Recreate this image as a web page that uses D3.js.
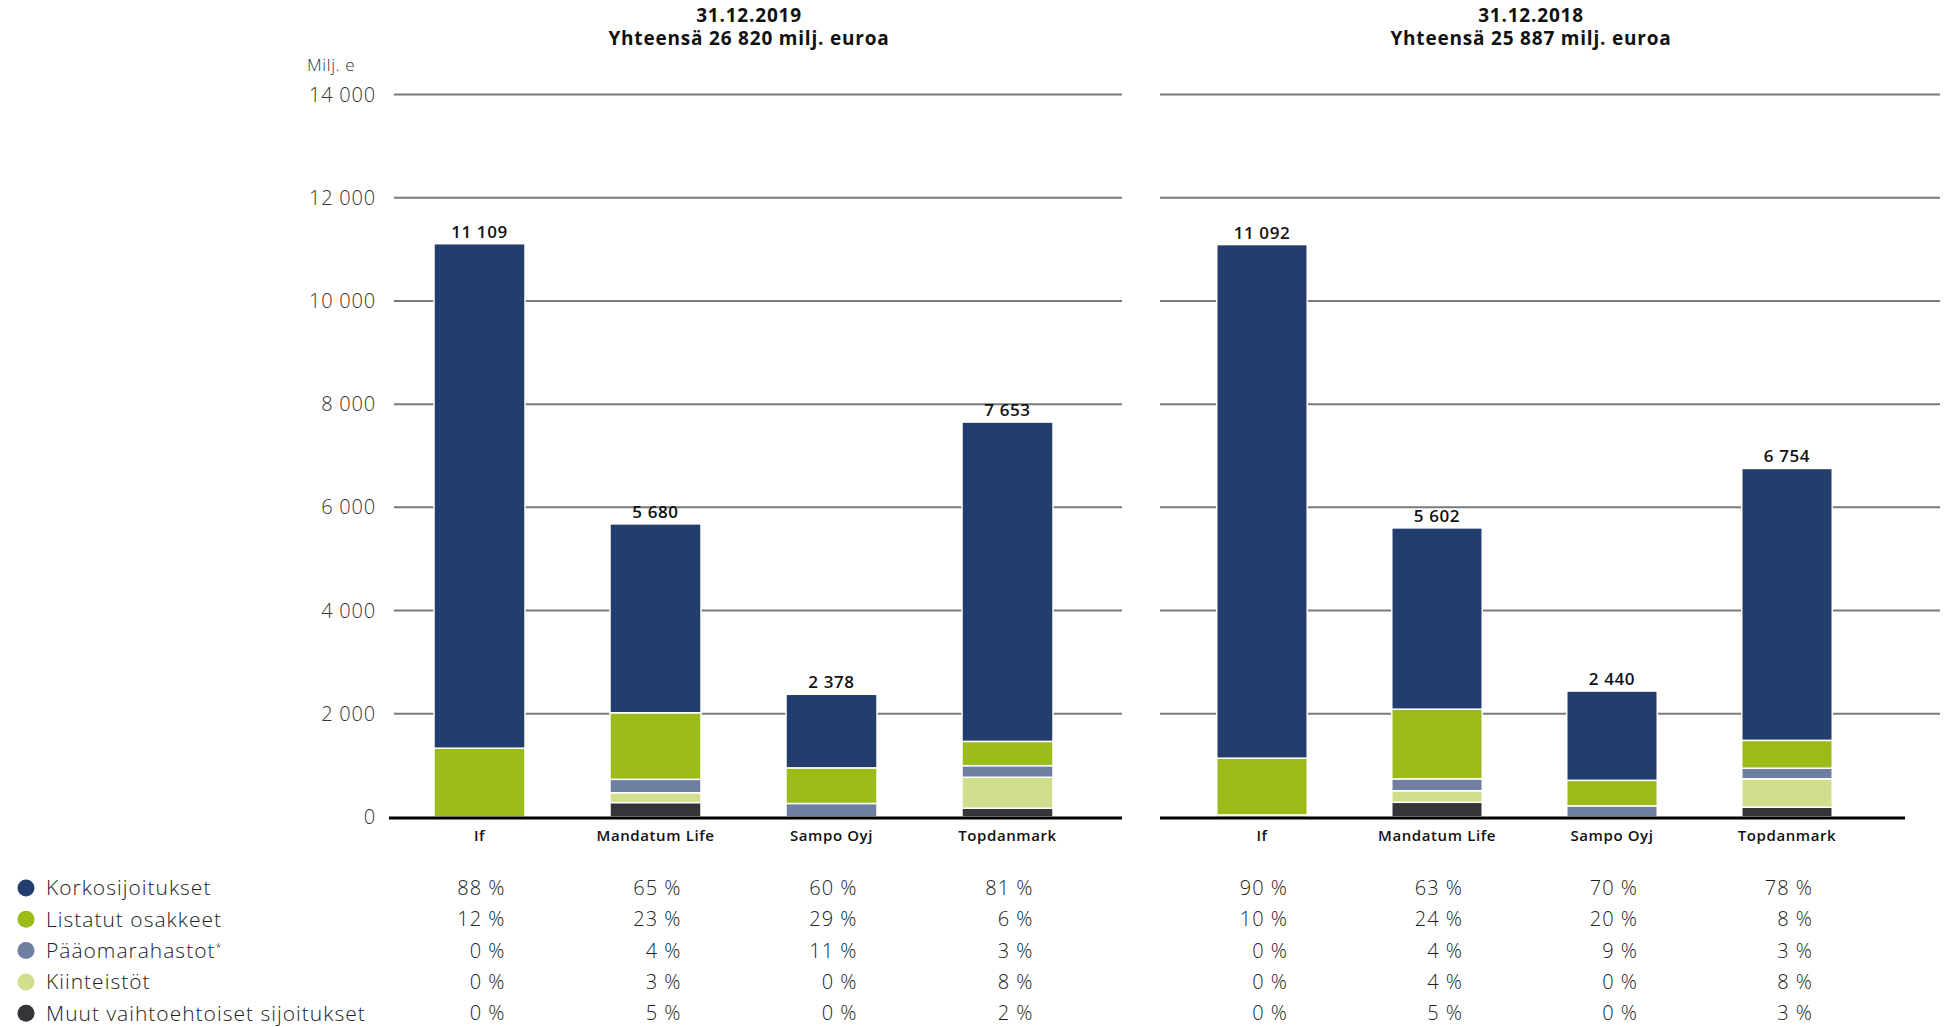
<!DOCTYPE html>
<html>
<head>
<meta charset="utf-8">
<script src="https://cdn.jsdelivr.net/npm/d3@7"></script>
<style>
  html, body { margin: 0; padding: 0; background: #fff; }
  svg { display: block; font-family: "Open Sans", Lato, sans-serif; }
</style>
</head>
<body>
<div id="chart"></div>
<script>
// Companies on the x axis (same in both panels)
const companies = ['If', 'Mandatum Life', 'Sampo Oyj', 'Topdanmark'];

// Asset classes, bottom of the stack last in this list
const assetClasses = [
  'Korkosijoitukset',
  'Listatut osakkeet',
  'Pääomarahastot',
  'Kiinteistöt',
  'Muut vaihtoehtoiset sijoitukset'
];

const yTicks = [0, 2000, 4000, 6000, 8000, 10000, 12000, 14000];

// Bar segment values, milj. e, one array per asset class
const korko2019 = [9776, 3660, 1426, 6188];
const listatut2019 = [1333, 1290, 690, 470];
const paaoma2019 = [0, 260, 262, 225];
const kiinteistot2019 = [0, 190, 0, 600];
const muut2019 = [0, 280, 0, 170];
const totals2019 = [11109, 5680, 2378, 7653];

const korko2018 = [9952, 3513, 1730, 5269];
const listatut2018 = [1100, 1350, 495, 540];
const paaoma2018 = [40, 230, 215, 205];
const kiinteistot2018 = [0, 224, 0, 550];
const muut2018 = [0, 285, 0, 190];
const totals2018 = [11092, 5602, 2440, 6754];

// Percent shares shown in the table under the chart
const pct2019 = [
  [88, 65, 60, 81],
  [12, 23, 29, 6],
  [0, 4, 11, 3],
  [0, 3, 0, 8],
  [0, 5, 0, 2]
];
const pct2018 = [
  [90, 63, 70, 78],
  [10, 24, 20, 8],
  [0, 4, 9, 3],
  [0, 4, 0, 8],
  [0, 5, 0, 3]
];

const colors = ['#233d6e', '#9bbb19', '#6e7fa1', '#cfdf8b', '#343538'];

const width = 1950;
const height = 1027;

const svg = d3.select('#chart')
  .append('svg')
  .attr('width', width)
  .attr('height', height);

const y = d3.scaleLinear().domain([0, 14000]).range([817, 94.5]);

const fmt = v => d3.format(',')(v).replace(/,/g, ' ');

const panels = [
  {
    date: '31.12.2019',
    total: 'Yhteensä 26 820 milj. euroa',
    titleX: 749,
    range: [390, 1097],
    grid: [394, 1122],
    base: [389, 1122],
    series: [korko2019, listatut2019, paaoma2019, kiinteistot2019, muut2019],
    totals: totals2019,
    pct: pct2019
  },
  {
    date: '31.12.2018',
    total: 'Yhteensä 25 887 milj. euroa',
    titleX: 1531,
    range: [1173, 1876],
    grid: [1160, 1940],
    base: [1160, 1905],
    series: [korko2018, listatut2018, paaoma2018, kiinteistot2018, muut2018],
    totals: totals2018,
    pct: pct2018
  }
];

// y axis labels, only on the left
svg.append('g')
  .selectAll('text')
  .data(yTicks)
  .enter()
  .append('text')
  .attr('x', 376)
  .attr('y', d => y(d))
  .attr('dy', '0.35em')
  .attr('text-anchor', 'end')
  .style('font-size', '20px')
  .style('font-weight', 300)
  .style('letter-spacing', '0.8px')
  .attr('fill', '#333')
  .text(fmt);

svg.append('text')
  .attr('x', 307)
  .attr('y', 65)
  .attr('dy', '0.35em')
  .style('font-size', '17px')
  .style('font-weight', 300)
  .style('letter-spacing', '0.6px')
  .attr('fill', '#333')
  .text('Milj. e');

panels.forEach(p => {
  const x = d3.scaleBand()
    .domain(companies)
    .range(p.range)
    .paddingInner(0.483)
    .paddingOuter(0.25);

  const g = svg.append('g');

  // titles
  [p.date, p.total].forEach((t, i) => {
    g.append('text')
      .attr('x', p.titleX)
      .attr('y', 22 + i * 23)
      .attr('text-anchor', 'middle')
      .style('font-size', '19px')
      .style('font-weight', 700)
      .style('letter-spacing', '0.8px')
      .attr('fill', '#111')
      .text(t);
  });

  // gridlines (the zero line is drawn as the black baseline)
  g.selectAll('.grid')
    .data(yTicks.filter(d => d > 0))
    .enter()
    .append('line')
    .attr('x1', p.grid[0])
    .attr('x2', p.grid[1])
    .attr('y1', d => y(d))
    .attr('y2', d => y(d))
    .attr('stroke', '#7a7a7a')
    .attr('stroke-width', 2);

  // stack: bottom = Muut, top = Korko
  const rows = companies.map((c, i) => {
    const r = { company: c };
    assetClasses.forEach((a, k) => { r[a] = p.series[k][i]; });
    return r;
  });
  const stack = d3.stack().keys(assetClasses.slice().reverse());
  const layers = stack(rows);

  g.selectAll('.layer')
    .data(layers)
    .enter()
    .append('g')
    .attr('fill', d => colors[assetClasses.indexOf(d.key)])
    .selectAll('rect')
    .data(d => d.filter(s => s[1] - s[0] > 0))
    .enter()
    .append('rect')
    .attr('x', d => x(d.data.company))
    .attr('width', x.bandwidth())
    .attr('y', d => y(d[1]))
    .attr('height', d => y(d[0]) - y(d[1]))
    .attr('stroke', '#fff')
    .attr('stroke-width', 1.5);

  // baseline
  g.append('line')
    .attr('x1', p.base[0])
    .attr('x2', p.base[1])
    .attr('y1', y(0) + 1)
    .attr('y2', y(0) + 1)
    .attr('stroke', '#000')
    .attr('stroke-width', 3);

  // totals above bars
  g.selectAll('.total')
    .data(p.totals)
    .enter()
    .append('text')
    .attr('x', (d, i) => x(companies[i]) + x.bandwidth() / 2)
    .attr('y', d => y(d) - 6)
    .attr('text-anchor', 'middle')
    .style('font-size', '17px')
    .style('font-weight', 600)
    .style('letter-spacing', '0.6px')
    .attr('fill', '#111')
    .text(fmt);

  // category labels
  g.selectAll('.cat')
    .data(companies)
    .enter()
    .append('text')
    .attr('x', d => x(d) + x.bandwidth() / 2)
    .attr('y', 836)
    .attr('dy', '0.35em')
    .attr('text-anchor', 'middle')
    .style('font-size', '15px')
    .style('font-weight', 600)
    .style('letter-spacing', '0.6px')
    .attr('fill', '#111')
    .text(d => d);

  // percentage table
  p.pct.forEach((row, k) => {
    g.selectAll('.pct' + k)
      .data(row)
      .enter()
      .append('text')
      .attr('x', (d, i) => x(companies[i]) + x.bandwidth() / 2 + 26)
      .attr('y', 888 + k * 31.3)
      .attr('dy', '0.35em')
      .attr('text-anchor', 'end')
      .style('font-size', '20px')
      .style('font-weight', 300)
      .style('letter-spacing', '1px')
      .attr('fill', '#222')
      .text(d => d + ' %');
  });
});

// legend
const legend = svg.append('g');
legend.selectAll('g')
  .data(assetClasses)
  .enter()
  .append('g')
  .each(function(d, i) {
    const row = d3.select(this);
    const cy = 888 + i * 31.3;
    row.append('circle')
      .attr('cx', 26)
      .attr('cy', cy)
      .attr('r', 8.5)
      .attr('fill', colors[i]);
    const t = row.append('text')
      .attr('x', 46)
      .attr('y', cy)
      .attr('dy', '0.35em')
      .style('font-size', '21px')
      .style('font-weight', 300)
      .style('letter-spacing', '1px')
      .attr('fill', '#222')
      .text(d);
    if (i === 2) {
      t.append('tspan')
        .attr('dy', '-0.6em')
        .style('font-size', '11px')
        .text('*');
    }
  });
</script>
</body>
</html>
